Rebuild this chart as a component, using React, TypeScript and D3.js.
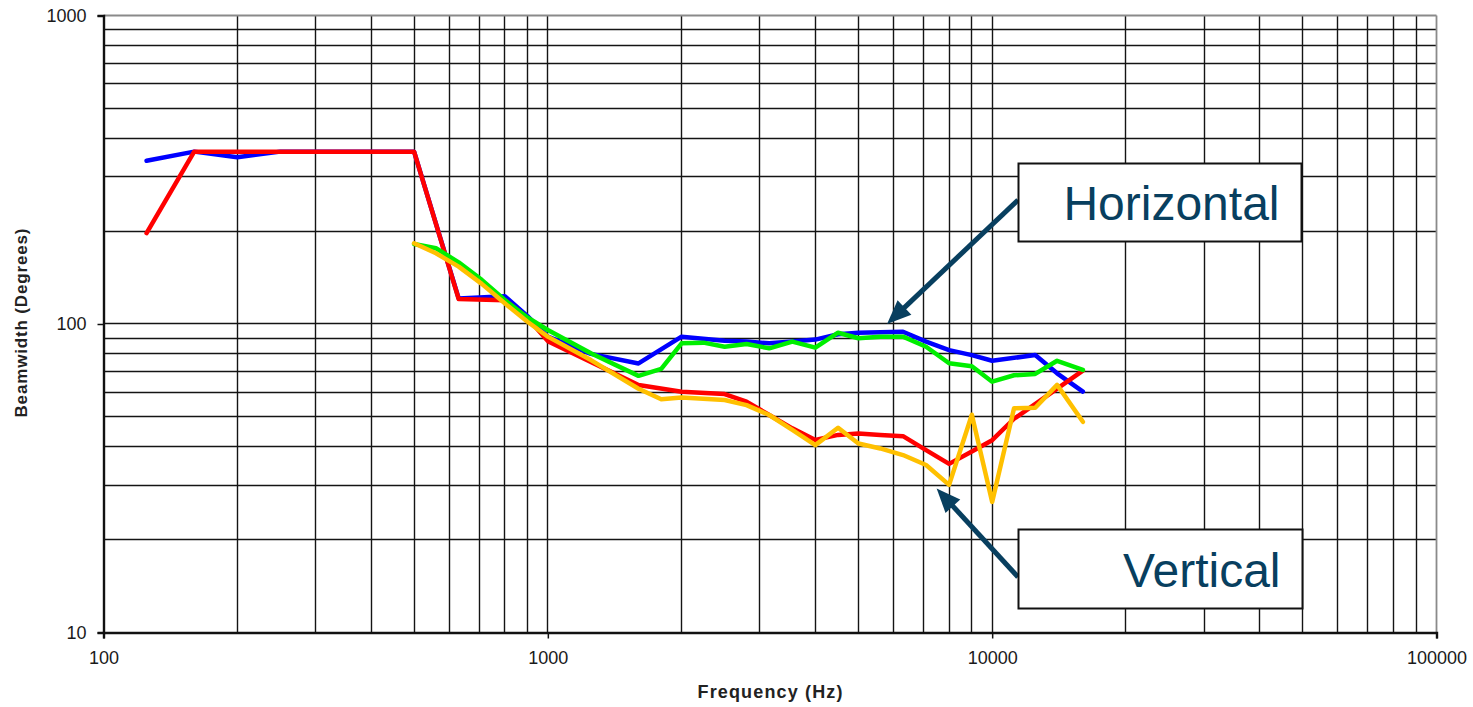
import { useEffect, useRef } from 'react'
import { select, scaleLog, line, axisLeft, axisBottom, format } from 'd3'

// 1/6-octave measurement frequencies (Hz)
const frequencies = [
  125, 140, 160, 180, 200, 224, 250, 280, 315, 355, 400, 450, 500, 560, 630, 710, 800, 900, 1000,
  1120, 1250, 1400, 1600, 1800, 2000, 2240, 2500, 2800, 3150, 3550, 4000, 4500, 5000, 5600, 6300,
  7100, 8000, 9000, 10000, 11200, 12500, 14000, 16000,
]

// beamwidth in degrees, null = no point at that frequency
const horizontalBlue = [
  338, null, 362, null, 347, null, 362, null, 362, null, 362, null, 362, null, 121, null, 123, 106, 91,
  null, 80, null, 74.5, null, 91, null, 88.3, 87.7, 86.6, 87.7, 89, 92.6, 93.7, 94, 94.4,
  87.7, 82.3, 79.3, 76, null, 79.3, 69.2, 60.4,
]
const verticalRed = [
  197, null, 362, null, 362, null, 362, null, 362, null, 362, null, 362, null, 120.5, null, 119.5, 104.6, 88,
  null, null, null, 63.4, null, 60.3, null, 59.3, 56, 50.7, 45.9, 42.1, 43.7, 44.2, 43.7, 43.3,
  39, 35.2, 38.6, 42, 49.3, null, null, 70.6,
]
const horizontalGreen = [
  null, null, null, null, null, null, null, null, null, null, null, null, 181.7, 176, 158.4, 139, 119.6, 105, 95.6,
  null, 80.4, null, 67.9, 71.5, 86.6, 87, 84.4, 86.1, 83.4, 87.7, 83.8, 93.7, 89.9, 91, 91,
  84.4, 74.6, 73, 65, 68.2, 68.9, 76, 71,
]
const verticalYellow = [
  null, null, null, null, null, null, null, null, null, null, null, null, 182.6, 169.5, 153.5, 134.9, 116.7, 101.7, 91,
  null, 76.4, null, 61.7, 57, 57.8, null, 56.7, 54.6, 50.7, 45.4, 40.5, 46.1, 41, 39.5, 37.6,
  34.9, 30.1, 50.8, 26.5, 53.3, 53.5, 63.5, 48.2,
]

const yTicks = [10, 100, 1000]
const xTicks = [100, 1000, 10000, 100000]

const series = [
  { values: horizontalBlue, color: '#0000ff' },
  { values: verticalRed, color: '#ff0000' },
  { values: horizontalGreen, color: '#00ee00' },
  { values: verticalYellow, color: '#ffc000' },
]

// callouts: label, box (pixels), arrow tip (data coords)
const callouts = [
  { label: 'Horizontal', box: [1018.5, 163.5, 283, 78], from: [1018, 200], tip: [5800, 100] },
  { label: 'Vertical', box: [1018.5, 529.5, 284, 79], from: [1018, 577], tip: [7500, 29.3] },
]

const FONT = '"Liberation Sans", Arial, sans-serif'
const INK = '#083f5f'

const App = () => {
  const svgRef = useRef<SVGSVGElement>(null)

  useEffect(() => {
    const svg = select(svgRef.current)
    svg.selectAll('*').remove()

    const left = 103.5
    const right = 1436.5
    const top = 15.5
    const bottom = 632.5

    const x = scaleLog().domain([100, 100000]).range([left, right])
    const y = scaleLog().domain([10, 1000]).range([bottom, top])
    const snap = (v: number) => Math.round(v - 0.5) + 0.5

    // grid
    const grid = svg.append('g').attr('stroke', '#141414').attr('stroke-width', 1.4)
    grid
      .selectAll('line.v')
      .data(x.ticks().filter((v) => v > 100 && v < 100000))
      .join('line')
      .attr('x1', (d) => snap(x(d)))
      .attr('x2', (d) => snap(x(d)))
      .attr('y1', top)
      .attr('y2', bottom)
    grid
      .selectAll('line.h')
      .data(y.ticks().filter((v) => v > 10 && v < 1000))
      .join('line')
      .attr('x1', left)
      .attr('x2', right)
      .attr('y1', (d) => snap(y(d)))
      .attr('y2', (d) => snap(y(d)))

    // frame: top / right lighter
    svg.append('line').attr('x1', left).attr('x2', right).attr('y1', top).attr('y2', top)
      .attr('stroke', '#8a8a8a').attr('stroke-width', 1.8)
    svg.append('line').attr('x1', right).attr('x2', right).attr('y1', top).attr('y2', bottom)
      .attr('stroke', '#8a8a8a').attr('stroke-width', 1.8)

    // axes
    const yAxis = svg
      .append('g')
      .attr('transform', `translate(${left},0)`)
      .call(axisLeft(y).tickValues(yTicks).tickSize(6).tickPadding(11).tickFormat(format('d')))
    const xAxis = svg
      .append('g')
      .attr('transform', `translate(0,${bottom})`)
      .call(axisBottom(x).tickValues(xTicks).tickSize(6).tickPadding(12).tickFormat(format('d')))
    for (const g of [yAxis, xAxis]) {
      g.select('.domain').attr('stroke', '#111').attr('stroke-width', 2.4)
      g.selectAll('.tick line').attr('stroke', '#111').attr('stroke-width', 1.5)
      g.selectAll('.tick text').attr('font-family', FONT).attr('font-size', 18).attr('fill', '#1a1a1a')
    }
    xAxis.selectAll('.tick text').attr('dy', '0.75em')

    // series
    const path = line<[number, number]>()
      .x((d) => x(d[0]))
      .y((d) => y(d[1]))
    series.forEach((s) => {
      const pts = frequencies
        .map((f, i) => [f, s.values[i]] as [number, number | null])
        .filter((d) => d[1] != null) as [number, number][]
      svg
        .append('path')
        .attr('d', path(pts))
        .attr('fill', 'none')
        .attr('stroke', s.color)
        .attr('stroke-width', 4.5)
        .attr('stroke-linejoin', 'round')
        .attr('stroke-linecap', 'round')
    })

    // callouts
    callouts.forEach((c) => {
      const [bx, by, bw, bh] = c.box
      const [fx, fy] = c.from
      const tx = x(c.tip[0])
      const ty = y(c.tip[1])
      const len = Math.hypot(tx - fx, ty - fy)
      const ux = (tx - fx) / len
      const uy = (ty - fy) / len
      const headL = 24
      const headW = 10
      const baseX = tx - ux * headL
      const baseY = ty - uy * headL
      svg
        .append('line')
        .attr('x1', fx)
        .attr('y1', fy)
        .attr('x2', baseX + ux * 2)
        .attr('y2', baseY + uy * 2)
        .attr('stroke', INK)
        .attr('stroke-width', 5)
      svg
        .append('polygon')
        .attr(
          'points',
          [
            [tx, ty],
            [baseX - uy * headW, baseY + ux * headW],
            [baseX + uy * headW, baseY - ux * headW],
          ]
            .map((p) => p.join(','))
            .join(' ')
        )
        .attr('fill', INK)
      svg
        .append('rect')
        .attr('x', bx)
        .attr('y', by)
        .attr('width', bw)
        .attr('height', bh)
        .attr('fill', '#fff')
        .attr('stroke', '#111')
        .attr('stroke-width', 2)
      svg
        .append('text')
        .attr('x', bx + bw - 22)
        .attr('y', by + bh - 21.5)
        .attr('text-anchor', 'end')
        .attr('font-family', FONT)
        .attr('font-size', 48)
        .attr('fill', INK)
        .text(c.label)
    })

    // axis titles
    svg
      .append('text')
      .attr('x', 770)
      .attr('y', 698)
      .attr('text-anchor', 'middle')
      .attr('font-family', FONT)
      .attr('font-weight', 'bold')
      .attr('font-size', 18)
      .attr('textLength', 145)
      .attr('fill', '#222')
      .text('Frequency (Hz)')
    svg
      .append('text')
      .attr('transform', 'translate(27,323) rotate(-90)')
      .attr('text-anchor', 'middle')
      .attr('font-family', FONT)
      .attr('font-weight', 'bold')
      .attr('font-size', 17)
      .attr('textLength', 189)
      .attr('fill', '#222')
      .text('Beamwidth (Degrees)')
  }, [])

  return (
    <svg
      ref={svgRef}
      width={1473}
      height={707}
      style={{ position: 'absolute', left: 0, top: 0, background: '#fff' }}
    />
  )
}

export default App
